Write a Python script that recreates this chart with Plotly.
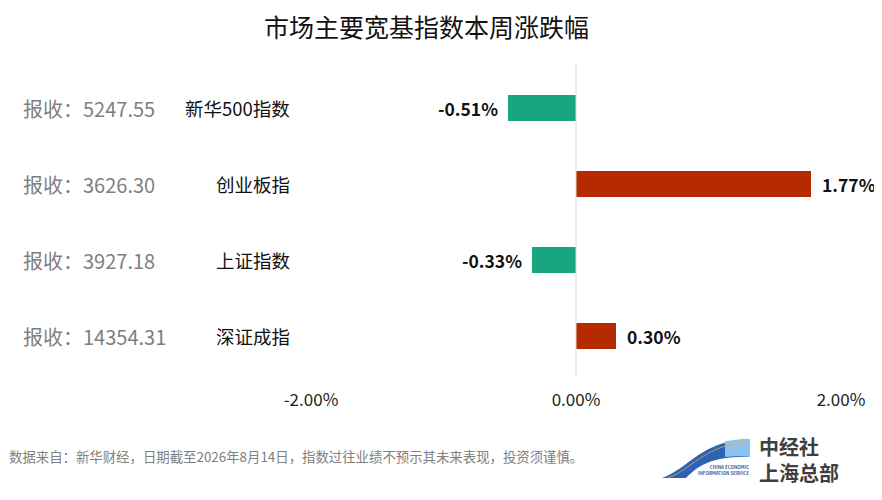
import plotly.graph_objects as go

indices = ["新华500指数", "创业板指", "上证指数", "深证成指"]
changes = [-0.51, 1.77, -0.33, 0.30]
closes = ["5247.55", "3626.30", "3927.18", "14354.31"]
tick_vals = [-2, 0, 2]
tick_text = ["-2.00%", "0.00%", "2.00%"]

UP = "#b52a00"
DOWN = "#18a57f"
FONT = "Noto Sans CJK SC"

W, H = 882, 500
OFF = 8  # page body margin in the browser
# plot area, in screen pixels of the reference
L, R, T, B = 311, 841, 70, 374


def px(x):
    return (x - L) / (R - L)


def py(y):
    return (B - y) / (B - T)


colors = [UP if v >= 0 else DOWN for v in changes]

fig = go.Figure(go.Bar(
    x=changes,
    y=indices,
    orientation="h",
    marker={"color": colors, "line": {"width": 0}},
    width=0.355,
    hoverinfo="x+y",
))

annotations = [
    dict(text="市场主要宽基指数本周涨跌幅", x=px(426), y=py(26), xref="paper", yref="paper",
         xanchor="center", yanchor="middle", showarrow=False,
         font={"size": 25, "color": "#111111", "family": FONT}),
    dict(text="数据来自：新华财经，日期截至2026年8月14日，指数过往业绩不预示其未来表现，投资须谨慎。",
         x=px(7), y=py(456), xref="paper", yref="paper", xanchor="left", yanchor="middle",
         showarrow=False, font={"size": 13.4, "color": "#808080", "family": FONT}),
    dict(text="<b>中经社<br>上海总部</b>", x=px(757), y=py(459), xref="paper", yref="paper",
         xanchor="left", yanchor="middle", align="left", showarrow=False,
         font={"size": 20, "color": "#3f3f3f", "family": FONT}),
    dict(text="<b>CHINA ECONOMIC<br>INFORMATION SERVICE</b>", x=px(751), y=py(470), xref="paper",
         yref="paper", xanchor="right", yanchor="middle", align="right", showarrow=False,
         font={"size": 4.5, "color": "#3a62a8", "family": FONT}),
]

for name, close, v in zip(indices, closes, changes):
    annotations.append(dict(text=name, x=px(292), y=name, xref="paper", yref="y", xanchor="right",
                            yanchor="middle", showarrow=False,
                            font={"size": 18.5, "color": "#111111", "family": FONT}))
    annotations.append(dict(text="报收：" + close, x=px(21), y=name, xref="paper", yref="y",
                            xanchor="left", yanchor="middle", showarrow=False,
                            font={"size": 20, "color": "#7f7f7f", "family": FONT}))
    annotations.append(dict(text="<b>%.2f%%</b>" % v, x=v, y=name, xref="x", yref="y",
                            xanchor="left" if v >= 0 else "right", yanchor="middle",
                            xshift=9 if v >= 0 else -8, showarrow=False,
                            font={"size": 17.5, "color": "#111111", "family": FONT}))


def path(cmds):
    s = ""
    for cmd, pts in cmds:
        s += cmd + " " + " ".join("%f,%f" % (px(a), py(b)) for a, b in pts) + " "
    return s


shapes = [
    dict(type="line", xref="x", yref="paper", x0=0, x1=0, y0=py(375), y1=py(65),
         line={"color": "#d9d9d9", "width": 1}),
    # logo
    dict(type="path", xref="paper", yref="paper", line={"width": 0}, fillcolor="#a9d2f2",
         path=path([("M", [(655, 463)]), ("L", [(700, 463), (700, 478), (655, 478)])]) + "Z"),
    dict(type="path", xref="paper", yref="paper", line={"width": 0}, fillcolor="#2b63b5",
         path=path([("M", [(662, 478)]), ("C", [(690, 468), (700, 441), (750, 439)]),
                    ("L", [(750, 457)]), ("C", [(716, 456), (700, 463), (686, 478)])]) + "Z"),
    dict(type="path", xref="paper", yref="paper", line={"width": 0}, fillcolor="#8cc2ee",
         path=path([("M", [(725, 441)]), ("C", [(735, 440), (742, 439), (750, 439)]),
                    ("L", [(750, 457)]), ("C", [(742, 456), (735, 456), (725, 457)])]) + "Z"),
    dict(type="path", xref="paper", yref="paper", line={"color": "#f2a33a", "width": 0.8},
         path=path([("M", [(668, 478)]), ("C", [(690, 470), (705, 446), (745, 442)])])),
]

fig.update_layout(
    width=W, height=H,
    margin={"l": L - OFF, "r": W - (R - OFF), "t": T - OFF, "b": H - (B - OFF)},
    paper_bgcolor="white", plot_bgcolor="white",
    showlegend=False,
    bargap=0,
    font={"family": FONT},
    xaxis={"range": [-2, 2], "tickvals": tick_vals, "ticktext": tick_text,
           "showgrid": False, "zeroline": False, "showline": False,
           "tickfont": {"size": 17, "color": "#222222", "family": FONT}, "ticklen": 0,
           "ticklabelstandoff": 14},
    yaxis={"autorange": "reversed", "showticklabels": False, "showgrid": False,
           "zeroline": False, "showline": False},
    annotations=annotations,
    shapes=shapes,
)

fig.write_html("out.html")
